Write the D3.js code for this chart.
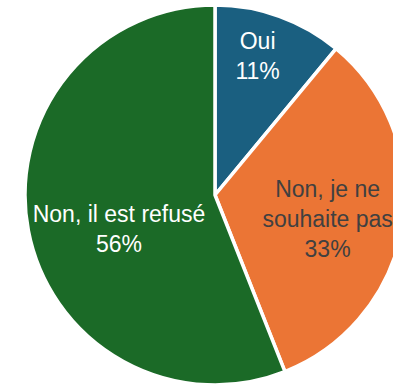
<!DOCTYPE html>
<html>
<head>
<meta charset="utf-8">
<script src="https://cdn.jsdelivr.net/npm/d3@7"></script>
<style>
  html, body { margin: 0; padding: 0; background: #fff; }
  svg { display: block; }
</style>
</head>
<body>
<svg id="chart" width="393" height="388"></svg>
<script>
// Answer categories and their shares (%)
const categories = ["Oui", "Non, je ne souhaite pas", "Non, il est refusé"];
const labelLines = [["Oui"], ["Non, je ne", "souhaite pas"], ["Non, il est refusé"]];
const values = [11, 33, 56];
const sliceColors = ["#1A5F80", "#EB7535", "#1B6A27"];
const textColors = ["#ffffff", "#404040", "#ffffff"];

// Layout
const width = 393, height = 388;
const cx = 215, cy = 195, radius = 190;
const labelRadius = 114;
const labelNudge = [[4, -32], [0, 6], [16, 13]];
const lineHeight = 30;

const svg = d3.select("#chart");
const g = svg.append("g").attr("transform", `translate(${cx},${cy})`);

const pie = d3.pie().sort(null).value(d => d.value);
const arcs = pie(categories.map((c, i) => ({ name: c, value: values[i], i })));

const arc = d3.arc().innerRadius(0).outerRadius(radius);
const labelArc = d3.arc().innerRadius(labelRadius).outerRadius(labelRadius);

g.selectAll("path.slice")
  .data(arcs)
  .join("path")
  .attr("class", "slice")
  .attr("d", arc)
  .attr("fill", d => sliceColors[d.data.i])
  .attr("stroke", "#ffffff")
  .attr("stroke-width", 3.5)
  .attr("stroke-linejoin", "round");

const labels = g.selectAll("text.lbl")
  .data(arcs)
  .join("text")
  .attr("class", "lbl")
  .attr("text-anchor", "middle")
  .attr("font-family", "'Liberation Sans', Arial, sans-serif")
  .attr("font-size", 23)
  .attr("fill", d => textColors[d.data.i])
  .attr("transform", d => {
    const [x, y] = labelArc.centroid(d);
    const [dx, dy] = labelNudge[d.data.i];
    return `translate(${x + dx},${y + dy})`;
  });

labels.each(function(d) {
  const lines = labelLines[d.data.i].concat([d.data.value + "%"]);
  const t = d3.select(this);
  const top = -(lines.length - 1) * lineHeight / 2;
  lines.forEach((line, k) => {
    t.append("tspan")
      .attr("x", 0)
      .attr("y", top + k * lineHeight)
      .attr("dy", "0.35em")
      .text(line);
  });
});
</script>
</body>
</html>
